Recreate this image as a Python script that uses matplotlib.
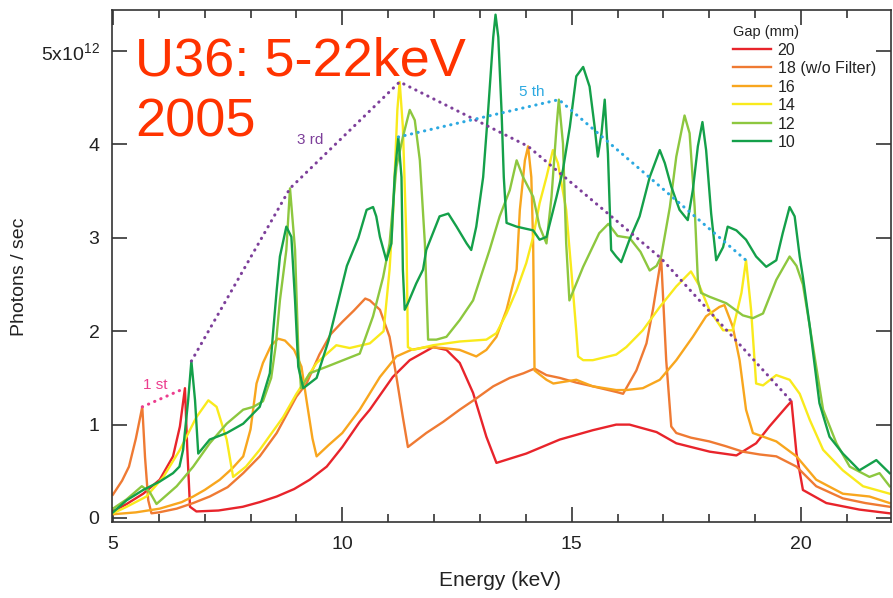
import matplotlib
matplotlib.use("Agg")
import matplotlib.pyplot as plt
from matplotlib.ticker import FixedLocator, FixedFormatter, MultipleLocator

plt.rcParams['font.family'] = ['Liberation Sans', 'DejaVu Sans']
plt.rcParams['mathtext.fontset'] = 'custom'
plt.rcParams['mathtext.rm'] = 'Liberation Sans'
plt.rcParams['mathtext.default'] = 'rm'

# ---- spectra: photon flux (x1e12 photons/s) vs energy (keV) for each gap ----
red_E = [5.0, 5.3, 5.66, 6.02, 6.31, 6.46, 6.57, 6.62, 6.68, 6.82, 7.3, 7.83, 8.2, 8.57, 8.95, 9.29, 9.66, 10.0,
         10.38, 10.6, 11.1, 11.47, 11.98, 12.27, 12.56, 12.85, 13.14, 13.36, 14.01, 14.74, 15.46, 15.97, 16.26,
         16.85, 17.28, 18.01, 18.59, 19.02, 19.31, 19.68, 19.79, 19.9, 20.04, 20.55, 21.27, 21.93]
red_Y = [0.07, 0.15, 0.26, 0.41, 0.66, 0.98, 1.39, 0.75, 0.12, 0.07, 0.08, 0.12, 0.17, 0.23, 0.31, 0.41, 0.55, 0.76,
         1.03, 1.16, 1.51, 1.69, 1.83, 1.80, 1.66, 1.34, 0.87, 0.59, 0.69, 0.84, 0.94, 1.0, 1.0,
         0.92, 0.80, 0.71, 0.67, 0.80, 0.98, 1.19, 1.25, 0.69, 0.30, 0.16, 0.09, 0.05]

o18_E = [5.0, 5.2, 5.35, 5.5, 5.64, 5.7, 5.77, 5.84, 6.0, 6.39, 6.75, 7.11, 7.5, 7.84, 8.2, 8.57, 9.0, 9.22, 9.5,
         9.75, 10.0, 10.25, 10.5, 10.6, 10.82, 11.03, 11.18, 11.32, 11.43, 11.83, 12.2, 12.56, 12.92, 13.29,
         13.65, 13.95, 14.19, 14.45, 14.74, 15.1, 15.46, 15.97, 16.12, 16.41, 16.63, 16.77, 16.95, 17.06, 17.17,
         17.28, 17.6, 18.0, 18.35, 18.73, 19.1, 19.46, 19.9, 20.33, 20.91, 21.4, 21.93]
o18_Y = [0.25, 0.40, 0.55, 0.85, 1.19, 0.65, 0.19, 0.05, 0.06, 0.10, 0.16, 0.23, 0.33, 0.48, 0.66, 0.91, 1.30, 1.44,
         1.75, 1.97, 2.10, 2.22, 2.35, 2.33, 2.23, 1.94, 1.51, 1.08, 0.76, 0.91, 1.03, 1.16, 1.28, 1.41,
         1.50, 1.55, 1.60, 1.53, 1.50, 1.45, 1.41, 1.35, 1.33, 1.58, 1.87, 2.23, 2.78, 1.69, 0.98,
         0.91, 0.86, 0.82, 0.77, 0.71, 0.68, 0.66, 0.55, 0.34, 0.21, 0.16, 0.12]

o16_E = [5.0, 5.5, 6.02, 6.5, 6.75, 7.0, 7.33, 7.6, 7.84, 8.0, 8.13, 8.27, 8.45, 8.6, 8.75, 8.95, 9.11, 9.22, 9.35,
         9.44, 9.7, 10.0, 10.38, 10.82, 11.18, 11.5, 11.83, 12.2, 12.56, 12.92, 13.14, 13.36, 13.58, 13.8, 13.87,
         13.98, 14.05, 14.12, 14.16, 14.19, 14.45, 14.6, 15.1, 15.46, 15.97, 16.19, 16.55, 16.92, 17.28, 17.64,
         17.93, 18.22, 18.33, 18.51, 18.66, 18.8, 18.95, 19.46, 19.9, 20.33, 20.91, 21.49, 21.93]
o16_Y = [0.04, 0.06, 0.10, 0.17, 0.23, 0.30, 0.41, 0.53, 0.66, 0.95, 1.44, 1.66, 1.85, 1.92, 1.90, 1.80, 1.62, 1.26,
         0.85, 0.66, 0.78, 0.91, 1.16, 1.51, 1.73, 1.80, 1.83, 1.82, 1.80, 1.73, 1.80, 1.94, 2.23, 2.66, 3.30,
         3.83, 3.98, 3.65, 2.94, 1.58, 1.48, 1.44, 1.48, 1.41, 1.37, 1.37, 1.39, 1.48, 1.69, 1.94,
         2.16, 2.26, 2.28, 2.05, 1.69, 1.16, 0.91, 0.82, 0.66, 0.41, 0.26, 0.23, 0.16]

y14_E = [5.0, 5.3, 5.73, 6.1, 6.46, 6.82, 7.08, 7.26, 7.48, 7.62, 7.9, 8.2, 8.71, 9.0, 9.44, 9.87, 10.16, 10.6,
         10.9, 11.03, 11.11, 11.2, 11.25, 11.32, 11.4, 11.43, 11.54, 11.98, 12.56, 13.14, 13.36, 13.58, 13.8,
         14.01, 14.16, 14.3, 14.45, 14.59, 14.7, 14.88, 14.99, 15.1, 15.14, 15.25, 15.46, 15.97, 16.19, 16.55,
         16.92, 17.28, 17.6, 17.79, 18.0, 18.3, 18.51, 18.7, 18.8, 18.91, 19.02, 19.17, 19.46, 19.75, 19.97,
         20.19, 20.48, 20.91, 21.35, 21.93]
y14_Y = [0.05, 0.12, 0.23, 0.44, 0.73, 1.08, 1.26, 1.19, 0.84, 0.44, 0.55, 0.73, 1.08, 1.33, 1.66, 1.85, 1.82, 1.87,
         2.0, 2.66, 3.30, 4.37, 4.67, 4.19, 2.94, 1.83, 1.80, 1.85, 1.89, 1.91, 1.98, 2.19, 2.44,
         2.73, 3.01, 3.37, 3.65, 3.94, 3.80, 3.30, 2.66, 2.0, 1.73, 1.69, 1.69, 1.75, 1.83, 2.01,
         2.26, 2.48, 2.64, 2.48, 2.23, 2.01, 2.01, 2.41, 2.76, 2.23, 1.44, 1.42, 1.53, 1.48, 1.33,
         1.05, 0.73, 0.51, 0.34, 0.26]

g12_E = [5.0, 5.3, 5.63, 5.8, 5.95, 6.39, 6.75, 7.11, 7.48, 7.84, 8.06, 8.27, 8.45, 8.55, 8.64, 8.78, 8.86, 8.97,
         9.04, 9.1, 9.29, 9.66, 10.02, 10.38, 10.67, 10.89, 11.03, 11.18, 11.32, 11.47, 11.58, 11.69, 11.8, 11.87,
         12.05, 12.27, 12.56, 12.85, 13.07, 13.21, 13.43, 13.65, 13.8, 13.94, 14.16, 14.3, 14.45, 14.56, 14.67,
         14.72, 14.81, 14.88, 14.95, 15.25, 15.6, 15.8, 16.0, 16.26, 16.5, 16.7, 16.85, 16.95, 17.14, 17.28,
         17.46, 17.57, 17.68, 17.75, 17.82, 18.0, 18.37, 18.73, 18.95, 19.17, 19.46, 19.75, 19.9, 20.04, 20.19,
         20.48, 20.77, 21.06, 21.49, 21.71, 21.93]
g12_Y = [0.10, 0.20, 0.34, 0.28, 0.15, 0.34, 0.55, 0.80, 1.01, 1.16, 1.19, 1.25, 1.50, 1.85, 2.33, 2.87, 3.53, 2.87,
         1.80, 1.39, 1.55, 1.62, 1.69, 1.76, 2.16, 2.58, 2.94, 3.76, 4.08, 4.37, 4.26, 3.83, 2.94, 1.91,
         1.91, 1.94, 2.12, 2.33, 2.66, 2.87, 3.23, 3.51, 3.83, 3.65, 3.44, 3.12, 2.94, 3.44, 4.19,
         4.48, 4.01, 2.94, 2.33, 2.69, 3.05, 3.15, 3.02, 3.00, 2.85, 2.65, 2.70, 2.80, 3.33, 3.87,
         4.31, 4.12, 3.33, 2.55, 2.41, 2.37, 2.30, 2.17, 2.14, 2.19, 2.55, 2.80, 2.70, 2.50, 2.05,
         1.16, 0.80, 0.55, 0.44, 0.48, 0.34]

g10_E = [5.0, 5.3, 5.66, 6.02, 6.31, 6.45, 6.53, 6.64, 6.71, 6.79, 6.86, 7.11, 7.48, 7.84, 8.2, 8.42, 8.49, 8.57,
         8.64, 8.78, 8.89, 8.97, 9.04, 9.15, 9.44, 9.7, 9.9, 10.1, 10.35, 10.53, 10.67, 10.74, 10.82, 10.96, 11.07,
         11.14, 11.22, 11.29, 11.32, 11.36, 11.43, 11.61, 11.76, 11.83, 12.12, 12.31, 12.49, 12.71, 12.81, 12.92,
         13.07, 13.18, 13.29, 13.34, 13.4, 13.47, 13.52, 13.58, 13.8, 14.16, 14.3, 14.45, 14.67, 14.81, 14.96,
         15.1, 15.25, 15.39, 15.5, 15.57, 15.65, 15.72, 15.79, 15.86, 15.97, 16.08, 16.26, 16.48, 16.7, 16.92,
         17.03, 17.17, 17.35, 17.53, 17.64, 17.75, 17.85, 17.93, 18.04, 18.15, 18.3, 18.4, 18.59, 18.8, 19.02,
         19.24, 19.46, 19.6, 19.75, 19.86, 19.97, 20.04, 20.19, 20.4, 20.62, 20.91, 21.27, 21.64, 21.93]
g10_Y = [0.06, 0.19, 0.30, 0.39, 0.48, 0.55, 0.73, 1.26, 1.68, 1.26, 0.69, 0.84, 0.91, 1.01, 1.19, 1.55, 1.98, 2.44,
         2.80, 3.12, 3.01, 2.33, 1.62, 1.39, 1.50, 1.90, 2.30, 2.70, 3.00, 3.30, 3.33, 3.23, 3.01, 2.76, 2.94,
         3.65, 4.08, 3.65, 2.66, 2.23, 2.30, 2.51, 2.66, 2.87, 3.23, 3.26, 3.12, 2.94, 2.87, 3.12,
         3.65, 4.37, 5.15, 5.39, 5.15, 4.37, 3.65, 3.16, 3.12, 3.08, 2.98, 3.01, 3.44, 3.73, 4.19,
         4.73, 4.83, 4.62, 4.19, 3.87, 4.12, 4.48, 3.90, 2.87, 2.80, 2.74, 2.98, 3.23, 3.65, 3.94,
         3.80, 3.55, 3.30, 3.19, 3.51, 3.98, 4.24, 3.94, 3.26, 2.76, 2.90, 3.12, 3.08, 2.98, 2.80,
         2.69, 2.76, 3.05, 3.33, 3.23, 2.80, 2.58, 2.05, 1.23, 0.87, 0.69, 0.51, 0.62, 0.48]

gap_labels = ['20', '18 (w/o Filter)', '16', '14', '12', '10']
gap_colors = ['#E8242B', '#EF7A33', '#F8A61E', '#F9EA1C', '#8DC73F', '#14A04A']

# harmonic peak envelopes
first_E = [5.64, 6.57]
first_Y = [1.19, 1.39]
third_E = [6.71, 8.86, 11.25, 14.05, 16.95, 19.79]
third_Y = [1.68, 3.53, 4.67, 3.98, 2.78, 1.25]
fifth_E = [11.22, 14.72, 18.80]
fifth_Y = [4.08, 4.48, 2.76]

yticks = [0, 1, 2, 3, 4, 5]
ytick_labels = ['0', '1', '2', '3', '4', r'5x10$^{12}$']
xticks = [5, 10, 15, 20]
xtick_labels = ['5', '10', '15', '20']

# ---- figure ----
W, H = 893, 598
fig = plt.figure(figsize=(W / 100, H / 100), dpi=100)
ax = fig.add_axes([112 / W, 1 - 522 / H, 779 / W, 512 / H])

spectra = [(red_E, red_Y), (o18_E, o18_Y), (o16_E, o16_Y), (y14_E, y14_Y), (g12_E, g12_Y), (g10_E, g10_Y)]
for (E, Y), lab, col in zip(spectra, gap_labels, gap_colors):
    ax.plot(E, Y, color=col, lw=1.7, label=lab, solid_joinstyle='round')

dot = (0, (0.1, 2.1))
ax.plot(first_E, first_Y, color='#EC3D8E', lw=2.2, ls=dot, dash_capstyle='round')
ax.plot(third_E, third_Y, color='#7D3F9A', lw=2.2, ls=dot, dash_capstyle='round')
ax.plot(fifth_E, fifth_Y, color='#2CA9E1', lw=2.2, ls=dot, dash_capstyle='round')
ax.text(5.92, 1.42, '1 st', color='#EC3D8E', fontsize=11, ha='center', va='center')
ax.text(9.31, 4.05, '3 rd', color='#7D3F9A', fontsize=11, ha='center', va='center')
ax.text(14.13, 4.56, '5 th', color='#2CA9E1', fontsize=11, ha='center', va='center')

ax.text(0.0295, 0.873, 'U36: 5-22keV', transform=ax.transAxes, color='#FF3300',
        fontsize=39, ha='left', va='baseline')
ax.text(0.0295, 0.7525, '2005', transform=ax.transAxes, color='#FF3300',
        fontsize=39, ha='left', va='baseline')

ax.set_xlim(4.98, 21.96)
ax.set_ylim(-0.043, 5.44)

ax.xaxis.set_major_locator(FixedLocator(xticks))
ax.xaxis.set_major_formatter(FixedFormatter(xtick_labels))
ax.xaxis.set_minor_locator(MultipleLocator(1))
ax.yaxis.set_major_locator(FixedLocator(yticks))
ax.yaxis.set_major_formatter(FixedFormatter(ytick_labels))

ax.tick_params(which='both', direction='in', top=True, right=True, color='#333333', width=1.2,
               labelsize=14, labelcolor='#222222')
ax.tick_params(which='major', length=11)
ax.tick_params(which='minor', length=6)
ax.tick_params(axis='x', which='major', pad=10)
ax.tick_params(axis='y', which='major', pad=9)
for sp in ax.spines.values():
    sp.set_color('#333333')
    sp.set_linewidth(1.2)

ax.set_xlabel('Energy (keV)', fontsize=15, color='#222222')
ax.set_ylabel('Photons / sec', fontsize=14, color='#222222')
ax.xaxis.set_label_coords(0.498, -0.096)
ax.yaxis.set_label_coords(-0.108, 0.479)

leg = ax.legend(loc='upper left', bbox_to_anchor=(733 / W, 1 - 25 / H), bbox_transform=fig.transFigure,
                frameon=False, fontsize=11.5, title='Gap (mm)', title_fontsize=10.5,
                handlelength=2.4, handletextpad=0.4, labelspacing=0.22, borderpad=0,
                borderaxespad=0, alignment='left')
for t in leg.get_texts():
    t.set_color('#222222')
leg.get_title().set_color('#222222')

fig.savefig('out.png', dpi=100)
